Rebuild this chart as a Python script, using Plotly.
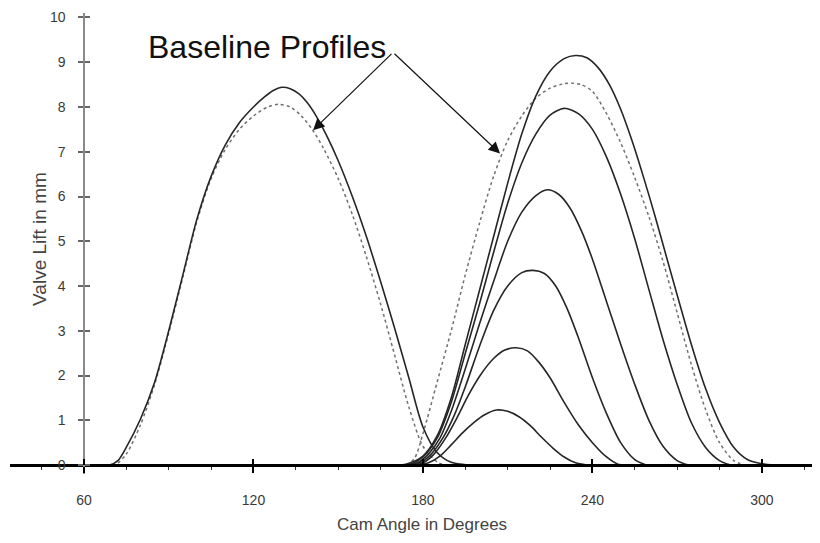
import plotly.graph_objects as go

# ---------------- data ----------------
# Intake side
in_solid_x = [66, 69, 72, 75, 80, 85, 90, 95, 100, 105, 110, 115, 120, 124, 127, 130, 133, 136,
              139, 142, 146, 150, 155, 160, 165, 170, 175, 180, 185, 190, 196, 200]
in_solid_y = [0, 0, 0.1, 0.4, 1.03, 1.85, 3.0, 4.25, 5.5, 6.45, 7.15, 7.65, 8.0, 8.23, 8.37, 8.44,
              8.41, 8.3, 8.1, 7.82, 7.35, 6.8, 6.0, 5.1, 4.1, 3.05, 1.95, 0.85, 0.28, 0.06, 0, 0]

in_base_x = [68, 71, 75, 80, 85, 90, 95, 100, 105, 110, 115, 120, 125, 129, 133, 137, 141, 145,
             150, 155, 160, 165, 170, 175, 180, 185, 188]
in_base_y = [0, 0, 0.25, 0.9, 1.8, 2.95, 4.2, 5.45, 6.4, 7.05, 7.5, 7.8, 8.0, 8.06, 8.0, 7.8,
             7.48, 7.05, 6.4, 5.6, 4.65, 3.6, 2.45, 1.3, 0.42, 0.07, 0]

# Exhaust side
ex_base_x = [170, 174, 177, 180, 185, 190, 195, 200, 205, 210, 215, 220, 225, 230, 233, 236, 240,
             245, 250, 255, 260, 265, 270, 275, 280, 285, 290, 294]
ex_base_y = [0, 0, 0.15, 0.7, 1.85, 3.0, 4.25, 5.4, 6.45, 7.25, 7.8, 8.2, 8.42, 8.52, 8.53, 8.5,
             8.35, 7.85, 7.2, 6.42, 5.55, 4.55, 3.4, 2.25, 1.25, 0.5, 0.1, 0]

ex_9_x = [170, 174, 180, 185, 190, 195, 200, 205, 210, 215, 220, 225, 230, 234, 238, 242, 246,
          250, 254, 258, 262, 266, 270, 275, 280, 285, 290, 295, 300, 305]
ex_9_y = [0, 0.02, 0.2, 0.65, 1.5, 2.7, 3.9, 5.1, 6.3, 7.4, 8.25, 8.8, 9.08, 9.15, 9.1, 8.88, 8.5,
          7.95, 7.25, 6.45, 5.6, 4.7, 3.8, 2.7, 1.72, 0.95, 0.4, 0.12, 0.03, 0]

ex_8_x = [172, 176, 180, 185, 190, 195, 200, 205, 210, 215, 220, 225, 230, 235, 240, 245, 250,
          255, 260, 265, 270, 275, 280, 285, 289]
ex_8_y = [0, 0.03, 0.18, 0.6, 1.4, 2.5, 3.6, 4.75, 5.85, 6.75, 7.4, 7.82, 7.97, 7.85, 7.5, 6.88,
          6.05, 5.05, 3.92, 2.8, 1.8, 0.95, 0.4, 0.1, 0]

ex_6_x = [174, 178, 182, 186, 190, 195, 200, 205, 210, 215, 220, 224, 228, 232, 236, 240, 245,
          250, 255, 260, 265, 270, 274]
ex_6_y = [0, 0.05, 0.25, 0.6, 1.2, 2.15, 3.15, 4.1, 5.0, 5.65, 6.02, 6.15, 6.05, 5.75, 5.25, 4.6,
          3.65, 2.7, 1.8, 1.0, 0.42, 0.1, 0]

ex_4_x = [175, 179, 183, 187, 191, 195, 200, 205, 210, 215, 219, 223, 227, 231, 235, 240, 245,
          250, 255, 259]
ex_4_y = [0, 0.05, 0.25, 0.6, 1.1, 1.75, 2.65, 3.45, 4.0, 4.3, 4.35, 4.28, 4.0, 3.5, 2.85, 1.95,
          1.15, 0.5, 0.12, 0]

ex_3_x = [176, 180, 184, 188, 192, 196, 200, 205, 209, 213, 217, 221, 225, 230, 235, 240, 245, 249, 252]
ex_3_y = [0, 0.05, 0.25, 0.6, 1.05, 1.55, 1.98, 2.38, 2.57, 2.62, 2.55, 2.3, 1.95, 1.4, 0.9,
          0.5, 0.18, 0.02, 0]

ex_1_x = [178, 182, 186, 190, 194, 198, 202, 206, 210, 214, 218, 222, 226, 230, 234, 238]
ex_1_y = [0, 0.05, 0.2, 0.45, 0.72, 0.95, 1.13, 1.23, 1.2, 1.08, 0.88, 0.62, 0.38, 0.18, 0.05, 0]

x_ticks = [60, 120, 180, 240, 300]
y_ticks = [0, 1, 2, 3, 4, 5, 6, 7, 8, 9, 10]
x_title = "Cam Angle in Degrees"
y_title = "Valve Lift in mm"
note_text = "Baseline Profiles"

# ---------------- figure ----------------
X_RANGE = [33.8, 323.4]
Y_RANGE = [-0.2, 10.1]
FONT = "Arial, Liberation Sans, sans-serif"

solid_curves = [(in_solid_x, in_solid_y), (ex_9_x, ex_9_y), (ex_8_x, ex_8_y),
                (ex_6_x, ex_6_y), (ex_4_x, ex_4_y), (ex_3_x, ex_3_y), (ex_1_x, ex_1_y)]
dotted_curves = [(in_base_x, in_base_y), (ex_base_x, ex_base_y)]

fig = go.Figure()
for xs, ys in dotted_curves:
    fig.add_trace(go.Scatter(x=xs, y=ys, mode="lines",
                             line=dict(color="#707070", width=1.5, dash="dot",
                                       shape="spline", smoothing=0.8),
                             hoverinfo="skip", showlegend=False))
for xs, ys in solid_curves:
    fig.add_trace(go.Scatter(x=xs, y=ys, mode="lines",
                             line=dict(color="#262626", width=1.6,
                                       shape="spline", smoothing=0.8),
                             hoverinfo="skip", showlegend=False))

# invisible trace so the overlay axes (inside tick marks) are drawn
fig.add_trace(go.Scatter(x=[x_ticks[0]], y=[y_ticks[0]], xaxis="x2", yaxis="y2",
                         mode="markers", marker=dict(opacity=0), hoverinfo="skip",
                         showlegend=False))

x_pos = (0 - Y_RANGE[0]) / (Y_RANGE[1] - Y_RANGE[0])
y_pos = (60 - X_RANGE[0]) / (X_RANGE[1] - X_RANGE[0])

# the page body adds an 8px offset; margins compensate for it
fig.update_layout(
    width=820, height=543,
    margin=dict(l=2, r=0, t=4.5, b=77),
    paper_bgcolor="white", plot_bgcolor="white",
    font=dict(family=FONT, color="#444444"),
    xaxis=dict(range=X_RANGE, domain=[0, 1], anchor="free", position=x_pos,
               showline=True, linecolor="black", linewidth=3,
               tickvals=x_ticks, ticks="outside", ticklen=6, tickwidth=1.5,
               tickcolor="black", ticklabelstandoff=15,
               minor=dict(tick0=60, dtick=15, ticks="outside", ticklen=3,
                          tickwidth=1.2, tickcolor="#333333"),
               tickfont=dict(size=14, color="#3a3a3a"),
               showgrid=False, zeroline=False),
    yaxis=dict(range=Y_RANGE, domain=[0, 1], anchor="free", position=y_pos,
               showline=True, linecolor="#8a8a8a", linewidth=1.5,
               tickvals=y_ticks, ticks="outside", ticklen=5, tickwidth=1.5,
               tickcolor="#666666", ticklabelstandoff=10,
               tickfont=dict(size=14, color="#3a3a3a"),
               showgrid=False, zeroline=False),
    xaxis2=dict(range=X_RANGE, overlaying="x", anchor="free", position=x_pos,
                tickvals=x_ticks, ticks="inside", ticklen=6, tickwidth=1.5,
                tickcolor="black", showticklabels=False, showline=False,
                showgrid=False, zeroline=False),
    yaxis2=dict(range=Y_RANGE, overlaying="y", anchor="free", position=y_pos,
                tickvals=y_ticks, ticks="inside", ticklen=5, tickwidth=1.5,
                tickcolor="#666666", showticklabels=False, showline=False,
                showgrid=False, zeroline=False),
)

annotations = [
    dict(text=note_text, x=124.7, y=9.33, xref="x", yref="y", showarrow=False,
         xanchor="center", yanchor="middle",
         font=dict(size=32, color="#111111", family=FONT)),
    dict(text="", x=141.1, y=7.48, ax=169.4, ay=9.22, xref="x", yref="y",
         axref="x", ayref="y", showarrow=True, arrowhead=2, arrowsize=1.9,
         arrowwidth=1.2, arrowcolor="#111111", standoff=0, startstandoff=0),
    dict(text="", x=207.3, y=6.96, ax=169.4, ay=9.22, xref="x", yref="y",
         axref="x", ayref="y", showarrow=True, arrowhead=2, arrowsize=1.9,
         arrowwidth=1.2, arrowcolor="#111111", standoff=0, startstandoff=0),
    dict(text=y_title, x=0.0367, y=0.51, xref="paper", yref="paper", textangle=-90,
         xanchor="center", yanchor="middle", showarrow=False,
         font=dict(size=19, color="#444444", family=FONT)),
    dict(text=x_title, x=0.504, y=-0.1105, xref="paper", yref="paper",
         xanchor="center", yanchor="middle", showarrow=False,
         font=dict(size=17, color="#444444", family=FONT)),
]
fig.update_layout(annotations=annotations)

fig.write_html("out.html")
